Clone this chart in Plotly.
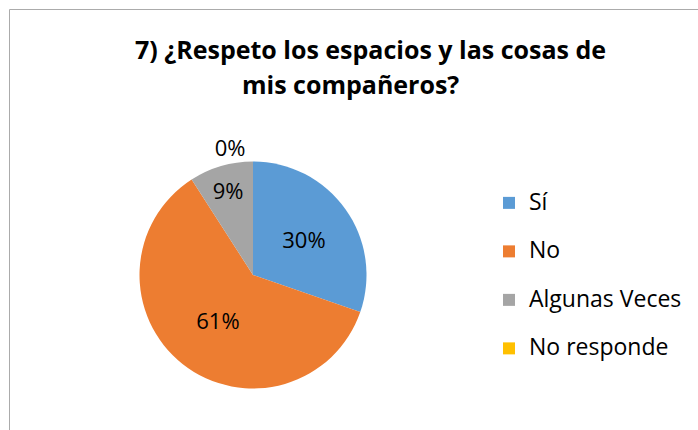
import plotly.graph_objects as go

# Data
labels = ["Sí", "No", "Algunas Veces", "No responde"]
counts = [10, 20, 3, 0]
colors = ["#5B9BD5", "#ED7D31", "#A5A5A5", "#FFC000"]
title_lines = ["7) ¿Respeto los espacios y las cosas de", "mis compañeros?"]

W, H = 698, 430
cx, cy, r = 253, 275, 113.5

legend_labels = ['<span style="font-size:23px">' + l + "</span><br>\u00a0" for l in labels]

fig = go.Figure(go.Pie(
    labels=legend_labels,
    values=counts,
    sort=False,
    direction="clockwise",
    rotation=0,
    marker=dict(colors=colors, line=dict(width=0)),
    textinfo="percent",
    texttemplate="%{percent:.0%}",
    textposition=["inside", "inside", "inside", "outside"],
    insidetextorientation="horizontal",
    textfont=dict(family="Open Sans", size=22, color="#000000"),
    domain=dict(x=[(cx - r) / W, (cx + r) / W], y=[(H - cy - r) / H, (H - cy + r) / H]),
    showlegend=True,
    hoverinfo="skip",
))

fig.add_annotation(text=title_lines[0], x=370 / W, y=1 - 49 / H, xref="paper", yref="paper",
                   showarrow=False, xanchor="center", yanchor="middle",
                   font=dict(family="Open Sans", size=25, color="#000000", weight="bold"))
fig.add_annotation(text=title_lines[1], x=350 / W, y=1 - 84 / H, xref="paper", yref="paper",
                   showarrow=False, xanchor="center", yanchor="middle",
                   font=dict(family="Open Sans", size=25, color="#000000", weight="bold"))

fig.add_shape(type="rect", xref="paper", yref="paper",
              x0=9.5 / W, x1=1.05, y0=-0.05, y1=1 - 9.5 / H,
              line=dict(color="#ABABAB", width=1), fillcolor="rgba(0,0,0,0)", layer="below")

fig.update_layout(
    width=W, height=H,
    margin=dict(l=0, r=0, t=0, b=0),
    paper_bgcolor="#FFFFFF",
    plot_bgcolor="#FFFFFF",
    legend=dict(x=489 / W, y=1 - 185 / H, xanchor="left", yanchor="top",
                valign="top",
                font=dict(family="Open Sans", size=17.5, color="#000000"),
                bgcolor="rgba(0,0,0,0)"),
)

fig.write_html("out.html", config={"displayModeBar": False},
               post_script="document.body.style.margin='0';document.body.style.overflow='hidden';")
